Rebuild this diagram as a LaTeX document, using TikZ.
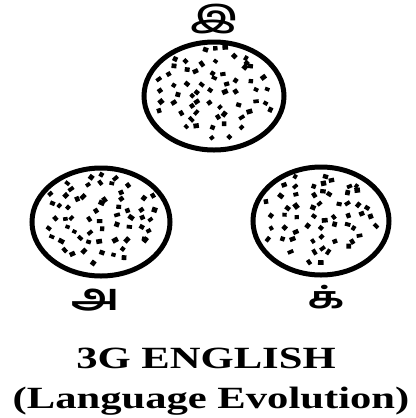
\documentclass[tikz,border=0pt]{standalone}
\usepackage{fontspec}
\setmainfont{Liberation Serif}
\newfontfamily\tamilfont[Script=Tamil]{Hind Madurai}
\usetikzlibrary{shapes.geometric}
\tikzset{
  cell/.style={ellipse, draw=black, line width=5bp, fill=white, inner sep=0pt},
  tamil/.style={font=\tamilfont\bfseries\fontsize{30}{30}\selectfont, inner sep=0pt},
  title/.style={font=\bfseries\fontsize{31}{31}\selectfont, inner sep=0pt, xscale=1.38},
  speck/.style={fill=black, draw=none}
}
\newcommand{\speckle}[5]{% seed, cx, cy, rx, ry
  \pgfmathsetseed{#1}
  \foreach \i in {-7,...,7}{
    \foreach \j in {-6,...,6}{
      \pgfmathsetmacro{\px}{\i*13+4.5*rand}
      \pgfmathsetmacro{\py}{\j*11+4*rand}
      \pgfmathsetmacro{\ins}{(\px/#4)^2+(\py/#5)^2}
      \pgfmathsetmacro{\dw}{4.2+1.8*rnd}
      \pgfmathsetmacro{\dh}{3.6+1.6*rnd}
      \pgfmathsetmacro{\rt}{60*rand}
      \ifdim \ins pt < 0.74pt
        \fill[speck, rotate around={\rt:({#2+\px},{#3+\py})}]
          ({#2+\px-\dw/2},{#3+\py-\dh/2}) rectangle ++(\dw,-\dh);
      \fi
    }
  }
}
\begin{document}
\begin{tikzpicture}[x=1bp, y=-1bp]
  \useasboundingbox (0,0) rectangle (416,418);
  \fill[white] (0,0) rectangle (416,418);
  % circles
  \node[cell, minimum width=140bp, minimum height=108bp] (topc) at (214,96) {};
  \node[cell, minimum width=138bp, minimum height=108bp] (leftc) at (101,222) {};
  \node[cell, minimum width=136bp, minimum height=108bp] (rightc) at (321,221) {};
  \speckle{11}{214}{96}{70}{54}
  \speckle{23}{101}{222}{69}{54}
  \speckle{37}{321}{221}{68}{54}
  % labels
  \node[tamil, xscale=1.4] (ti) at (214,19) {இ};
  \node[tamil, xscale=1.6, yscale=1.25] (la) at (96,300) {அ};
  \node[tamil, xscale=1.5] (rk) at (326,297) {க்};
  \node[title] (t1) at (206,358) {3G ENGLISH};
  \node[title] (t2) at (211,401) {(Language Evolution)};
\end{tikzpicture}
\end{document}
